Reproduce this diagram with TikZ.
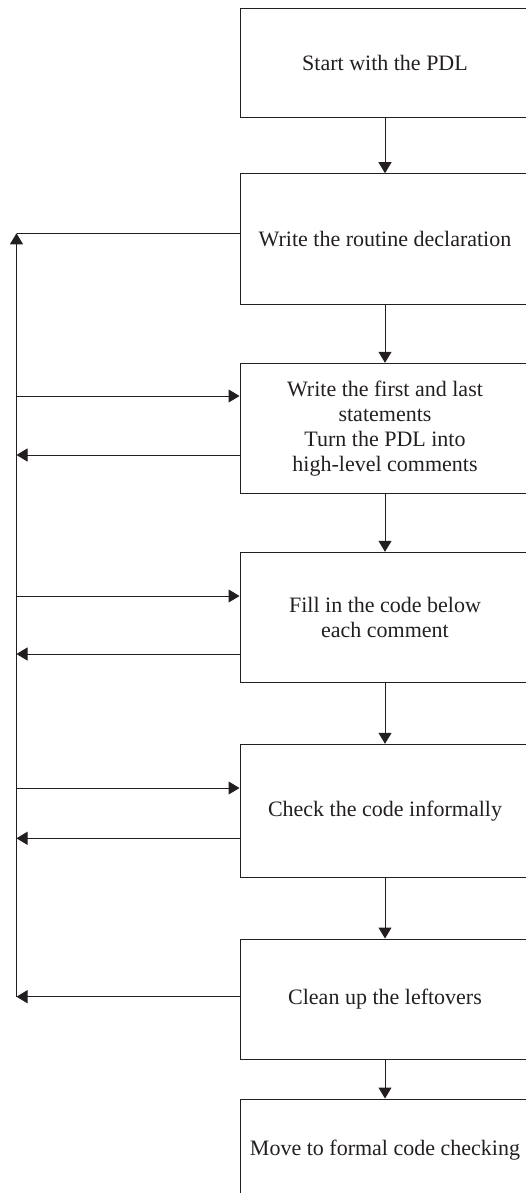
\documentclass[tikz,border=0pt]{standalone}
\usepackage{fontspec}
\setmainfont{Liberation Serif}
\usetikzlibrary{arrows.meta}
\definecolor{ink}{RGB}{35,31,32}
\begin{document}
\begin{tikzpicture}[x=1pt,y=-1pt,
  stepbox/.style={draw=ink, line width=1pt, minimum width=290pt, inner sep=2pt,
    align=center, text=ink, font=\fontsize{22}{25}\selectfont},
  conn/.style={draw=ink, line width=1pt},
  arr/.style={conn, -{Triangle[length=11pt,width=13pt]}}]
\useasboundingbox (0,0) rectangle (526,1193);
\node[stepbox, minimum height=108.7pt] (b1) at (385,63.35) {Start with the PDL};
\node[stepbox, minimum height=130.3pt] (b2) at (385,238.85) {Write the routine declaration};
\node[stepbox, minimum height=130.4pt] (b3) at (385,428.5) {Write the first and last\\statements\\Turn the PDL into\\high-level comments};
\node[stepbox, minimum height=130.4pt] (b4) at (385,617.5) {Fill in the code below\\each comment};
\node[stepbox, minimum height=133.4pt] (b5) at (385,811) {Check the code informally};
\node[stepbox, minimum height=120pt] (b6) at (385,999) {Clean up the leftovers};
\node[stepbox, minimum height=102pt] (b7) at (385,1150) {Move to formal code checking};
\foreach \a/\b in {b1/b2,b2/b3,b3/b4,b4/b5,b5/b6,b6/b7}
  \draw[arr] (\a.south) -- (\b.north);
\coordinate (top) at (16.5,233.3);
\coordinate (bot) at (16.5,996.7);
\coordinate (i3) at (16.5,396);
\coordinate (o3) at (16.5,455);
\coordinate (i4) at (16.5,596);
\coordinate (o4) at (16.5,654);
\coordinate (i5) at (16.5,788);
\coordinate (o5) at (16.5,838.3);
\draw[arr] (bot) -- (top);
\draw[conn] (top -| b2.west) -- (top);
\draw[arr] (i3) -- (i3 -| b3.west);
\draw[arr] (o3 -| b3.west) -- (o3);
\draw[arr] (i4) -- (i4 -| b4.west);
\draw[arr] (o4 -| b4.west) -- (o4);
\draw[arr] (i5) -- (i5 -| b5.west);
\draw[arr] (o5 -| b5.west) -- (o5);
\draw[arr] (bot -| b6.west) -- (bot);
\end{tikzpicture}
\end{document}
